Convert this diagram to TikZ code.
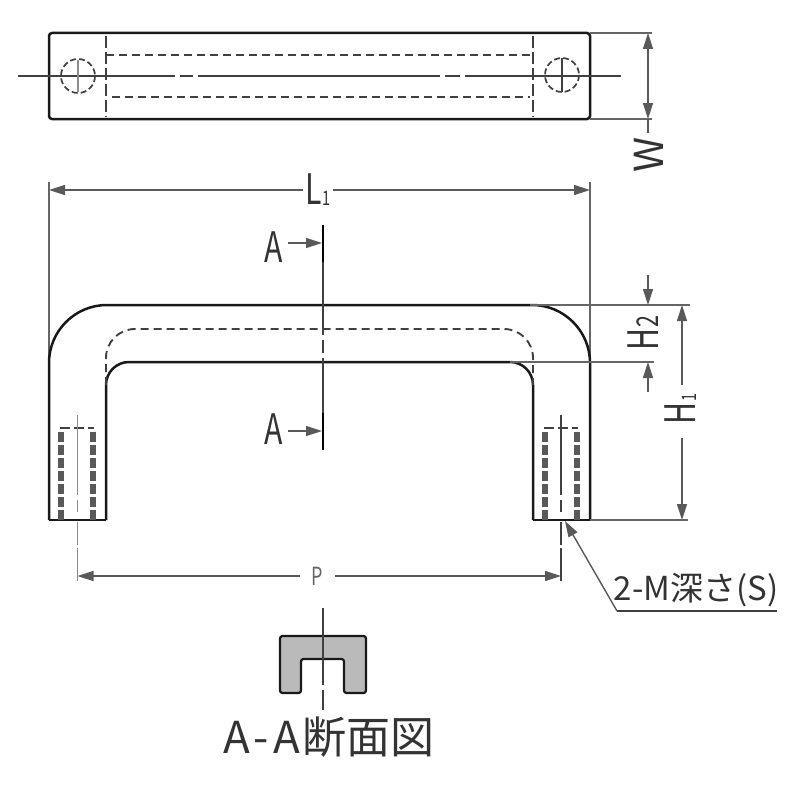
\documentclass[tikz,border=0pt]{standalone}
\usepackage{fontspec}
\setmainfont{Noto Sans CJK JP}
\usetikzlibrary{arrows.meta}
\tikzset{
  outline/.style={line width=2.5pt, black!90},
  hidden/.style={line width=1.9pt, dash pattern=on 8pt off 5pt, black!75},
  thread/.style={line width=2.3pt, dash pattern=on 10pt off 3pt, black!65},
  thin line/.style={line width=1.2pt, black!75},
  dimline/.style={line width=1.4pt, black!65, -{Triangle[length=16pt,width=10pt]}},
  dimtext/.style={inner sep=0pt, black!80, font=\fontsize{42}{42}\selectfont, xscale=0.72, transform shape},
  labeltext/.style={inner sep=0pt, black!80, font=\fontsize{44}{44}\selectfont}
}
\begin{document}
\begin{tikzpicture}[x=1pt,y=-1pt]
  \useasboundingbox (0,0) rectangle (800,800);

  % Top view
  \draw[outline, rounded corners=3pt] (49,33) rectangle (590,119);
  \draw[hidden, dash pattern=on 12pt off 4pt] (106,36) -- (106,117);
  \draw[hidden, dash pattern=on 12pt off 4pt] (533,36) -- (533,117);
  \draw[hidden] (106,55) -- (530,55);
  \draw[hidden] (112,97) -- (530,97);
  \draw[thin line] (18,76) -- (175,76) (180,76) -- (193,76) (198,76) -- (440,76) (445,76) -- (460,76) (465,76) -- (621,76);
  \draw[hidden, line width=1.7pt, dash pattern=on 6pt off 3pt] (78,76) circle (17);
  \draw[hidden, line width=1.7pt, dash pattern=on 6pt off 3pt] (562,75) circle (17);
  \draw[thin line, black!45] (78,60) -- (78,92);
  \draw[thin line] (562,58) -- (562,92);

  % Width
  \draw[thin line, black!60] (590,33) -- (652,33);
  \draw[thin line, black!60] (590,119) -- (652,119);
  \node[rotate=90, labeltext, font=\fontsize{40}{40}\selectfont, transform shape] (wlabel) at (649,155) {W};
  \coordinate (wtop) at (648,33);
  \coordinate (wbot) at (648,119);
  \draw[dimline, {Triangle[length=16pt,width=10pt]}-{Triangle[length=16pt,width=10pt]}] (wtop) -- (wbot);
  \draw[thin line, black!65] (wbot) -- (648,133);

  % Length
  \draw[thin line, black!60] (49,182) -- (49,370);
  \draw[thin line, black!60] (590,182) -- (590,375);
  \node[dimtext] (lone) at (318,190) {L\raisebox{-1pt}{\fontsize{20}{20}\selectfont 1}};
  \coordinate (lleft) at (49,190);
  \coordinate (lright) at (590,190);
  \draw[dimline] (lone.west) ++(-3,0) -- (lleft);
  \draw[dimline] (lone.east) ++(3,0) -- (lright);

  % Handle
  \draw[outline, rounded corners=58pt] (49,520) -- (49,305) -- (590,305) -- (590,520);
  \draw[outline, rounded corners=23pt] (106,520) -- (106,362) -- (533,362) -- (533,520);
  \draw[outline] (49,520) -- (106,520);
  \draw[outline] (533,520) -- (590,520);
  \draw[hidden, rounded corners=29pt] (106,385) -- (106,329) -- (533,329) -- (533,385);

  % Threads
  \foreach \hx in {59.5,62.5,91.5,94.5,543.5,546.5,575.5,578.5} {
    \draw[thread] (\hx,432) -- (\hx,520);
  }
  \draw[hidden, dash pattern=on 10pt off 4pt] (60,428) -- (94,428);
  \draw[hidden, dash pattern=on 10pt off 4pt] (544,428) -- (578,428);
  \draw[thin line, black!45] (77.5,415) -- (77.5,495) (77.5,500) -- (77.5,512) (77.5,522) -- (77.5,545) (77.5,548) -- (77.5,581);
  \draw[thin line] (561,415) -- (561,495) (561,500) -- (561,512) (561,522) -- (561,545) (561,548) -- (561,581);

  % Section line
  \draw[thin line] (323,225) -- (323,335) (323,340) -- (323,353) (323,358) -- (323,450);
  \draw[line width=2.6pt] (323,225) -- (323,262);
  \draw[line width=2.6pt] (323,413) -- (323,450);
  \node[dimtext] (auppr) at (274,247) {A};
  \node[dimtext] (alowr) at (274,429) {A};
  \coordinate (acutu) at (322,243);
  \coordinate (acutl) at (322,431);
  \draw[dimline] (288,243) -- (acutu);
  \draw[dimline] (288,431) -- (acutl);

  % Heights
  \draw[thin line, black!60] (530,305) -- (690,305);
  \draw[thin line, black!60] (510,362) -- (654,362);
  \draw[thin line, black!60] (590,520) -- (688,520);
  \node[rotate=90, dimtext] (htwo) at (643,333) {H\raisebox{0pt}{\fontsize{30}{30}\selectfont 2}};
  \node[rotate=90, dimtext] (hone) at (681,409) {H\raisebox{-1pt}{\fontsize{20}{20}\selectfont 1}};
  \coordinate (htwotop) at (648,305);
  \coordinate (htwobot) at (648,362);
  \coordinate (honetop) at (682,305);
  \coordinate (honebot) at (682,520);
  \draw[dimline] (648,275) -- (htwotop);
  \draw[dimline] (648,392) -- (htwobot);
  \draw[dimline] (682,385) -- (honetop);
  \draw[dimline] (682,438) -- (honebot);

  % Pitch
  \node[inner sep=0pt, black!60, font=\fontsize{25}{25}\selectfont, xscale=0.72, transform shape] (pitch) at (317,576) {P};
  \coordinate (pleft) at (77.5,576);
  \coordinate (pright) at (561,576);
  \draw[dimline] (300,576) -- (pleft);
  \draw[dimline] (335,576) -- (pright);

  % Tap note
  \node[labeltext, font=\fontsize{33}{33}\selectfont] (tap) at (696,590) {2-M深さ(S)};
  \coordinate (taptip) at (565,521);
  \coordinate (tapknee) at (617,611);
  \draw[dimline] (tapknee) -- (taptip);
  \draw[thin line] (tapknee) -- (777,611);

  % Section view
  \draw[outline, line width=2.2pt, fill=black!27, rounded corners=2.5pt]
    (280,693) -- (280,636) -- (366,636) -- (366,693) -- (344,693) -- (344,659) -- (301,659) -- (301,693) -- cycle;
  \draw[thin line] (323,608) -- (323,685) (323,690) -- (323,710);
  \node[labeltext] (seclabel) at (329,737) {A\kern4pt-\kern4pt A\kern3pt 断面図};
\end{tikzpicture}
\end{document}
